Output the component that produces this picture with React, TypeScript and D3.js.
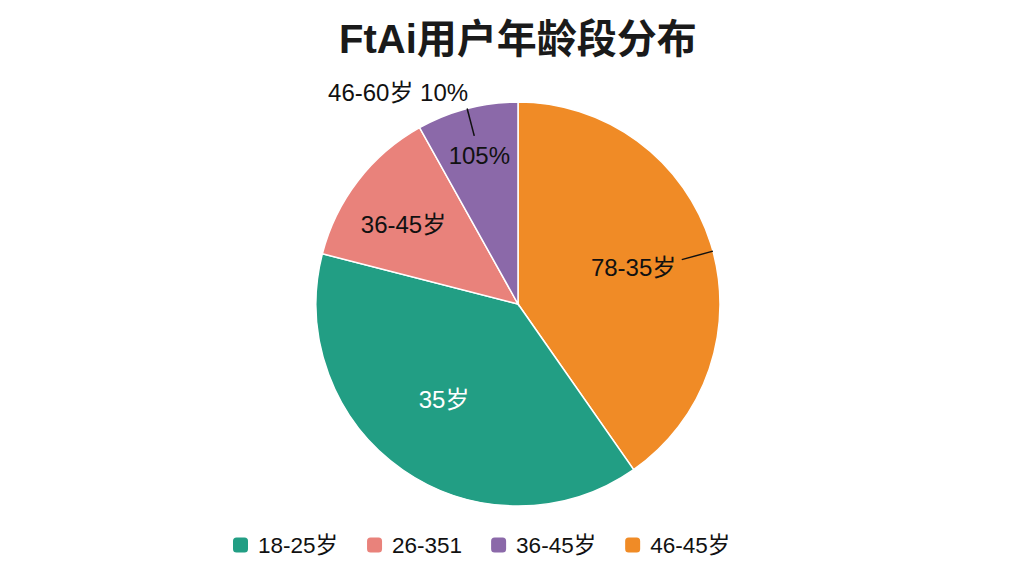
import { useEffect, useRef } from 'react'
import * as d3 from 'd3'

// slices in drawing order (clockwise from 12 o'clock)
const sliceKeys = ['orange', 'green', 'pink', 'purple']
const sliceValues = [40.3, 38.7, 12.9, 8.1]
const sliceLabels = ['78-35岁', '35岁', '36-45岁', '105%']
const sliceColors = ['#f08b26', '#229e84', '#e9827b', '#8b69a9']

const outsideLabel = '46-60岁 10%'

// legend (as printed in the picture)
const legendLabels = ['18-25岁', '26-351', '36-45岁', '46-45岁']
const legendKeys = ['green', 'pink', 'purple', 'orange']

const title = 'FtAi用户年龄段分布'

const FONT = '"Liberation Sans", Arial, "Noto Sans CJK SC", sans-serif'

const AgePie = () => {
  const svgRef = useRef<SVGSVGElement | null>(null)

  useEffect(() => {
    const svg = d3.select(svgRef.current)
    svg.selectAll('*').remove()

    const width = 1024
    const height = 576
    const cx = 518
    const cy = 304
    const radius = 202

    svg.attr('width', width).attr('height', height).attr('viewBox', `0 0 ${width} ${height}`)
    svg.append('rect').attr('width', width).attr('height', height).attr('fill', '#ffffff')

    svg
      .append('text')
      .attr('x', cx)
      .attr('y', 53)
      .attr('text-anchor', 'middle')
      .attr('font-family', FONT)
      .attr('font-size', 40)
      .attr('font-weight', 'bold')
      .attr('fill', '#1a1a1a')
      .text(title)

    const color = d3.scaleOrdinal<string, string>().domain(sliceKeys).range(sliceColors)

    const pie = d3
      .pie<number>()
      .sort(null)
      .value((d) => d)
    const arcs = pie(sliceValues)

    const arc = d3.arc<d3.PieArcDatum<number>>().innerRadius(0).outerRadius(radius)

    const g = svg.append('g').attr('transform', `translate(${cx},${cy})`)

    g.selectAll('path.slice')
      .data(arcs)
      .join('path')
      .attr('class', 'slice')
      .attr('d', arc)
      .attr('fill', (_, i) => color(sliceKeys[i]))
      .attr('stroke', '#ffffff')
      .attr('stroke-width', 1.5)

    // label distance from centre, as fraction of radius
    const labelR = [0.6, 0.6, 0.69, 0.76]
    const labelShift = [0, 0.05, -0.05, 0]
    const labelFill = ['#111', '#ffffff', '#111', '#111']

    const polar = (a: number, r: number): [number, number] => [Math.sin(a) * r, -Math.cos(a) * r]

    g.selectAll('text.inner')
      .data(arcs)
      .join('text')
      .attr('class', 'inner')
      .attr('x', (d, i) => polar((d.startAngle + d.endAngle) / 2 + labelShift[i], radius * labelR[i])[0])
      .attr('y', (d, i) => polar((d.startAngle + d.endAngle) / 2 + labelShift[i], radius * labelR[i])[1])
      .attr('dy', '0.35em')
      .attr('text-anchor', 'middle')
      .attr('font-family', FONT)
      .attr('font-size', 24)
      .attr('fill', (_, i) => labelFill[i])
      .text((_, i) => sliceLabels[i])

    // leader line on the orange slice
    const o = arcs[0]
    const oa = (o.startAngle + o.endAngle) / 2 + 0.04
    const [ox1, oy1] = polar(oa, radius * 0.84)
    const [ox2, oy2] = polar(oa, radius * 1.0)
    g.append('line')
      .attr('x1', ox1)
      .attr('y1', oy1)
      .attr('x2', ox2)
      .attr('y2', oy2)
      .attr('stroke', '#111')
      .attr('stroke-width', 1.5)

    // outside label for the purple slice
    const p = arcs[3]
    const pa = (p.startAngle + p.endAngle) / 2
    const [px1, py1] = polar(pa, radius * 0.86)
    const [px2, py2] = polar(pa, radius * 1.0)
    g.append('line')
      .attr('x1', px1)
      .attr('y1', py1)
      .attr('x2', px2)
      .attr('y2', py2)
      .attr('stroke', '#111')
      .attr('stroke-width', 1.5)
    g.append('text')
      .attr('x', px2 + 1)
      .attr('y', py2 - 8)
      .attr('text-anchor', 'end')
      .attr('font-family', FONT)
      .attr('font-size', 24)
      .attr('fill', '#111')
      .text(outsideLabel)

    // legend
    const legend = svg.append('g').attr('transform', `translate(233,545)`)
    let x = 0
    legendLabels.forEach((label, i) => {
      const item = legend.append('g').attr('transform', `translate(${x},0)`)
      item
        .append('rect')
        .attr('x', 0)
        .attr('y', -7.5)
        .attr('width', 15)
        .attr('height', 15)
        .attr('rx', 3.5)
        .attr('fill', color(legendKeys[i]))
      const t = item
        .append('text')
        .attr('x', 25)
        .attr('y', 0)
        .attr('dy', '0.36em')
        .attr('font-family', FONT)
        .attr('font-size', 22.5)
        .attr('fill', '#111')
        .text(label)
      const w = (t.node() as SVGTextElement).getComputedTextLength()
      x += 25 + w + 29
    })
  }, [])

  return <svg ref={svgRef} style={{ position: 'fixed', left: 0, top: 0, display: 'block' }} />
}

export default function App() {
  return <AgePie />
}
